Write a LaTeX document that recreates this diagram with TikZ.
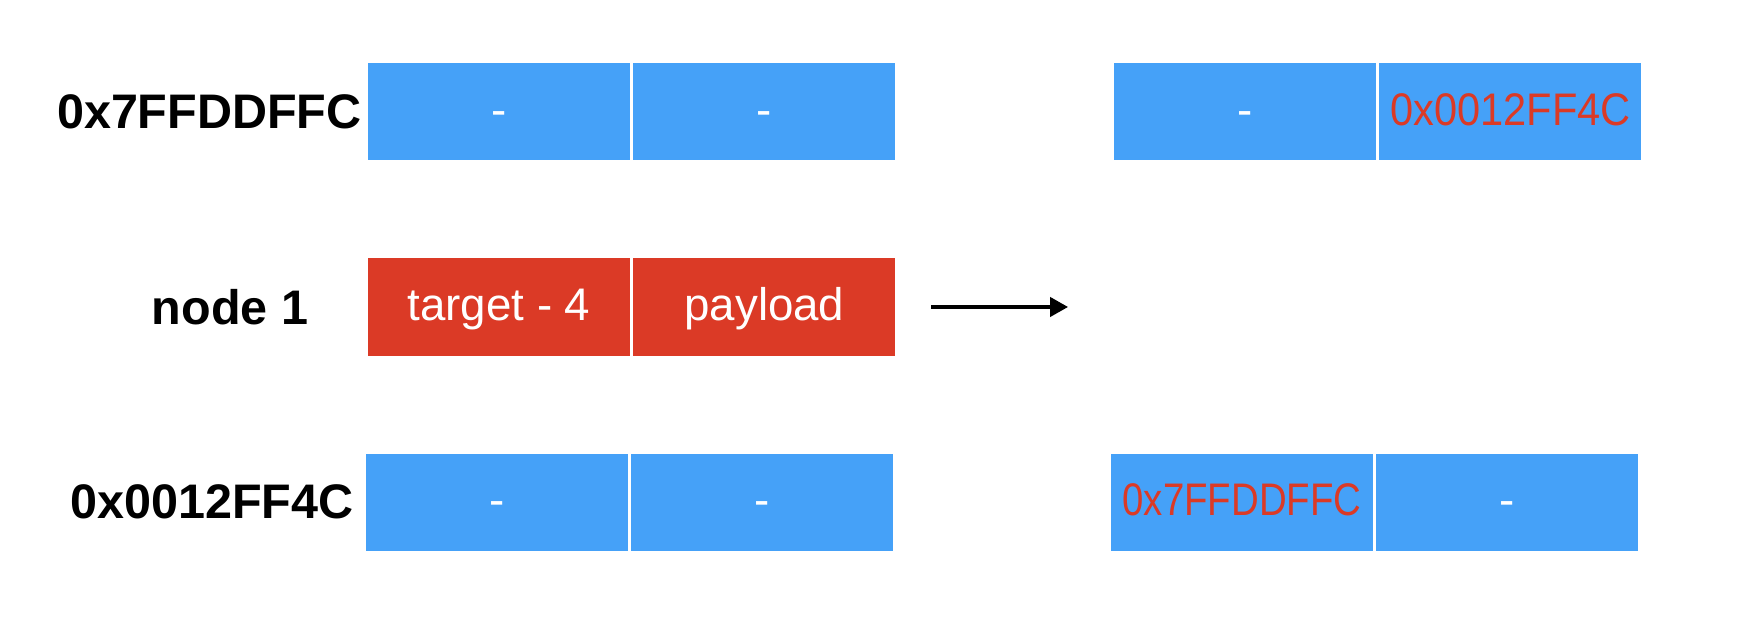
\documentclass[tikz,border=0pt]{standalone}
\usepackage{fontspec}
\setmainfont{Liberation Sans}
\usetikzlibrary{positioning,arrows.meta}
\definecolor{cellblue}{RGB}{69,161,248}
\definecolor{cellred}{RGB}{219,58,38}
\tikzset{cell/.style={fill=cellblue, text=white, minimum width=26.2mm, minimum height=9.75mm,
                      inner sep=0pt, text height=0.78em, text depth=0pt,
                      font=\fontsize{13}{15}\selectfont},
         nodecell/.style={cell, fill=cellred},
         addr/.style={inner sep=0pt, font=\fontsize{13.8}{16}\selectfont\bfseries}}
% red pointer text, squeezed like the original
\newcommand\ptr[2]{\textcolor{cellred}{\scalebox{#1}[1]{#2}}}
\begin{document}
\begin{tikzpicture}

%% some definitions
\def\gap{0.2mm} % white line between two cells

\useasboundingbox (0,0) rectangle (17.4,6.24);

%% chunk at 0x7FFDDFFC, before and after
\node[cell] (topA) at (4.99,5.123) {-};
\node[cell, right=\gap of topA] (topB) {-};
\node[cell] (topC) at (12.45,5.123) {-};
\node[cell, right=\gap of topC] (topD) {\ptr{0.91}{0x0012FF4C}};

%% the fake node
\node[nodecell] (fd) at (4.99,3.17) {target - 4};
\node[nodecell, right=\gap of fd] (bk) {payload};

%% chunk at 0x0012FF4C, before and after
\node[cell] (botA) at (4.97,1.217) {-};
\node[cell, right=\gap of botA] (botB) {-};
\node[cell] (botC) at (12.42,1.217) {\ptr{0.84}{0x7FFDDFFC}};
\node[cell, right=\gap of botC] (botD) {-};

%% addresses on the left
\node[addr, left=0.5mm of topA] (addrtop) {0x7FFDDFFC};
\node[addr] (nodename) at (2.30,3.17) {node 1};
\node[addr, left=1.1mm of botA] (addrbot) {0x0012FF4C};

%% unlink
\coordinate[right=3.5mm of bk.east] (unlinkA);
\coordinate[right=13.7mm of unlinkA] (unlinkB);
\draw[line width=0.4mm, -{Triangle[length=1.8mm,width=1.9mm]}] (unlinkA) -- (unlinkB);

\end{tikzpicture}
\end{document}
